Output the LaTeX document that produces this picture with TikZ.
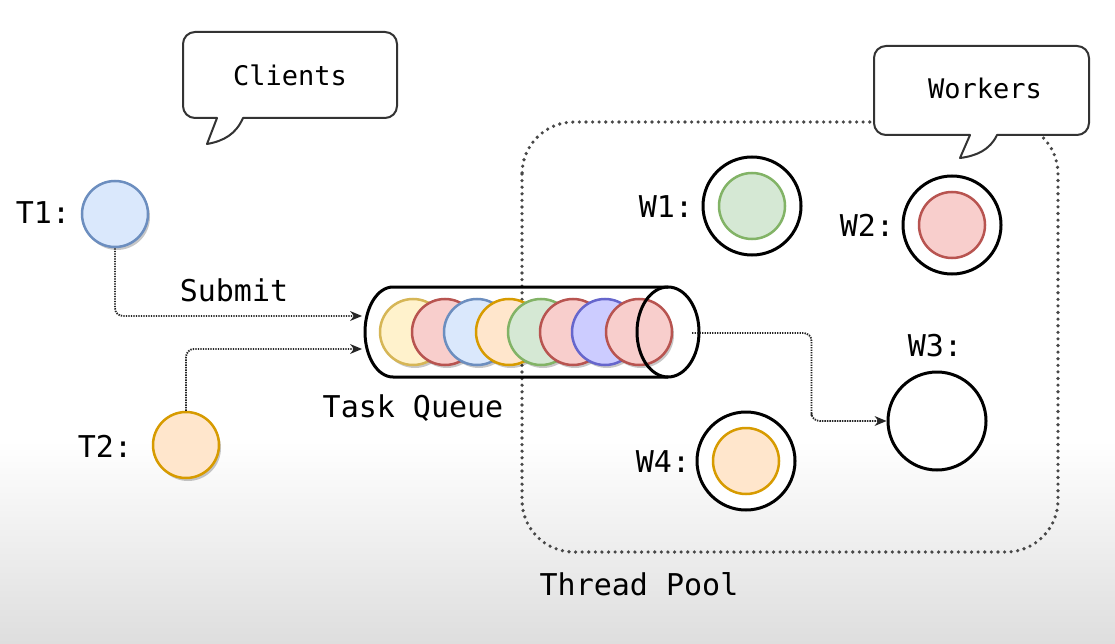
\documentclass[tikz,border=0pt]{standalone}
\usepackage{fontspec}
\newfontfamily\dm{DejaVu Sans Mono}
\usetikzlibrary{arrows.meta,shadows}
\definecolor{bluef}{HTML}{DAE8FC}\definecolor{blued}{HTML}{6C8EBF}
\definecolor{orgf}{HTML}{FFE6CC}\definecolor{orgd}{HTML}{D79B00}
\definecolor{yelf}{HTML}{FFF2CC}\definecolor{yeld}{HTML}{D6B656}
\definecolor{redf}{HTML}{F8CECC}\definecolor{redd}{HTML}{B85450}
\definecolor{grnf}{HTML}{D5E8D4}\definecolor{grnd}{HTML}{82B366}
\definecolor{purf}{HTML}{CCCCFF}\definecolor{purd}{HTML}{6666CC}
\tikzset{
  lbl/.style={font=\dm\fontsize{30}{34}\selectfont, inner sep=0pt},
  blbl/.style={font=\dm\fontsize{27}{30}\selectfont, inner sep=0pt},
  ball/.style={circle, minimum size=66pt, inner sep=0pt, line width=2.5pt,
     drop shadow={fill=black, opacity=0.22, shadow xshift=2pt, shadow yshift=-3pt}},
  wouter/.style={circle, minimum size=98pt, inner sep=0pt, line width=3pt, draw=black, fill=white},
  winner/.style={circle, minimum size=66pt, inner sep=0pt, line width=2.5pt},
  arr/.style={draw=black!85, line width=1.8pt, dash pattern=on 1.4pt off 1.1pt, rounded corners=8pt,
     -{Stealth[length=12pt,width=10pt,line width=0pt]}},
  pool/.style={draw=black!72, line width=3.6pt, dash pattern=on 0pt off 6.6pt, line cap=round},
  bubble/.style={draw=black!80, line width=2pt, fill=white, line join=round},
}
\begin{document}
\begin{tikzpicture}[x=1pt,y=-1pt]
\useasboundingbox (0,0) rectangle (1115,644);
\fill[white] (0,0) rectangle (1115,644);
\shade[top color=white, bottom color=black!13] (0,440) rectangle (1115,644);

% thread pool
\draw[pool, rounded corners=52pt] (522,122) rectangle (1058,552);
\node[lbl] (poollbl) at (639,584) {Thread Pool};

% bubbles
\draw[bubble] (217,118) [rounded corners=12pt] -- (183,118) -- (183,32) -- (397,32) -- (397,118) [sharp corners] -- (243,118)
   .. controls (236,134) and (224,141) .. (207,144) -- cycle;
\node[blbl] (clients) at (290,75) {Clients};
\draw[bubble] (970,135) [rounded corners=12pt] -- (874,135) -- (874,46) -- (1089,46) -- (1089,135) [sharp corners] -- (997,135)
   .. controls (990,150) and (976,156) .. (960,158) -- cycle;
\node[blbl] (workers) at (985,88) {Workers};

% clients
\node[ball, fill=bluef, draw=blued] (T1) at (115,214) {};
\node[lbl] (T1l) at (43,213) {T1:};
\node[ball, fill=orgf, draw=orgd] (T2) at (186,445) {};
\node[lbl] (T2l) at (105,446) {T2:};
\node[lbl] (submit) at (234,290) {Submit};

% queue balls
\node[ball, fill=yelf, draw=yeld] (b1) at (413,332) {};
\node[ball, fill=redf, draw=redd] (b2) at (445,332) {};
\node[ball, fill=bluef, draw=blued] (b3) at (477,332) {};
\node[ball, fill=orgf, draw=orgd] (b4) at (509,332) {};
\node[ball, fill=grnf, draw=grnd] (b5) at (541,332) {};
\node[ball, fill=redf, draw=redd] (b6) at (573,332) {};
\node[ball, fill=purf, draw=purd] (b7) at (605,332) {};
\node[ball, fill=redf, draw=redd] (b8) at (639,332) {};
% cylinder
\draw[line width=3pt, line join=round] (668,287) -- (393,287) arc[start angle=270, end angle=90, x radius=28, y radius=45] -- (668,377);
\draw[line width=3pt] (668,332) ellipse[x radius=31, y radius=45];
\node[lbl] (tq) at (413,408) {Task Queue};
\coordinate (qin1) at (362,316);
\coordinate (qin2) at (362,349);
\coordinate (qout) at (692,333);

% workers
\node[wouter] (W1) at (752,206) {};
\node[winner, fill=grnf, draw=grnd] (W1i) at (W1) {};
\node[lbl] (W1l) at (666,207) {W1:};
\node[wouter] (W2) at (952,225) {};
\node[winner, fill=redf, draw=redd] (W2i) at (W2) {};
\node[lbl] (W2l) at (867,225) {W2:};
\node[wouter] (W3) at (937,421) {};
\node[lbl] (W3l) at (935,346) {W3:};
\node[wouter] (W4) at (746,461) {};
\node[winner, fill=orgf, draw=orgd] (W4i) at (W4) {};
\node[lbl] (W4l) at (663,462) {W4:};

% connectors
\draw[arr] (T1.south) |- (qin1);
\draw[arr] (T2.north) |- (qin2);
\draw[arr] (qout) -| ([xshift=-75pt]W3.west) |- (W3.west);
\end{tikzpicture}
\end{document}
